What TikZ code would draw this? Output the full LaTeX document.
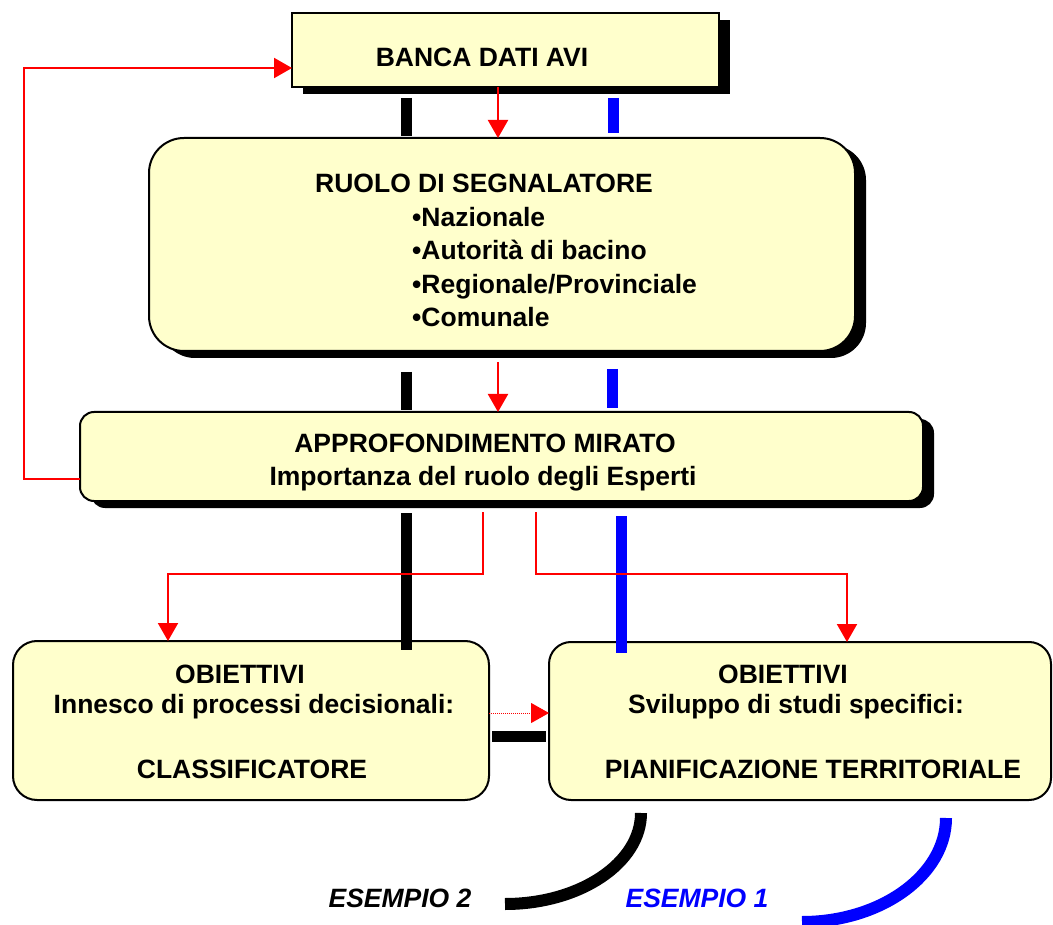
\documentclass[tikz,border=0pt]{standalone}
\usepackage{fontspec}
\setmainfont{Liberation Sans}
\usetikzlibrary{arrows.meta,shadows}
\definecolor{boxyellow}{HTML}{FFFFCC}
\definecolor{pured}{RGB}{255,0,0}
\definecolor{pureblue}{RGB}{0,0,255}
\begin{document}
\begin{tikzpicture}[x=1pt,y=-1pt,
  box/.style={draw=black,line width=2pt,fill=boxyellow,inner sep=0pt,outer sep=0pt},
  shadowed/.style={drop shadow={shadow xshift=11pt,shadow yshift=-7pt,fill=black,opacity=1}},
  txt/.style={font=\fontsize{26.5}{33}\selectfont\bfseries,anchor=base,inner sep=0pt},
  txtit/.style={font=\fontsize{26.5}{33}\selectfont\bfseries\itshape,anchor=base,inner sep=0pt},
  redarrow/.style={draw=pured,line width=2pt,-{Triangle[width=20pt,length=18pt]}},
  dotarrow/.style={draw=pured,line width=1pt,dash pattern=on 1pt off 1pt,-{Triangle[width=20pt,length=18pt]}},
  blackbar/.style={draw=black,line width=11pt},
  bluebar/.style={draw=pureblue,line width=11pt},
  arcline/.style={line width=12pt},
]
\useasboundingbox (0,0) rectangle (1053,925);

% boxes
\node[box,shadowed,minimum width=427pt,minimum height=74pt] (banca) at (505.5,50) {};
\node[box,shadowed,rounded corners=35pt,minimum width=706pt,minimum height=213pt] (ruolo) at (502,244.5) {};
\node[box,shadowed,rounded corners=14pt,minimum width=843pt,minimum height=89pt] (approf) at (501.5,456.5) {};
\node[box,rounded corners=24pt,minimum width=476pt,minimum height=159pt] (objl) at (251,720.5) {};
\node[box,rounded corners=22pt,minimum width=502pt,minimum height=158pt] (objr) at (800,721) {};

% texts
\node[txt] (tbanca) at (482,67) {BANCA DATI AVI};
\node[txt] (truolo) at (484,193) {RUOLO DI SEGNALATORE};
\node[txt,anchor=base west] (b1) at (412,226.5) {•Nazionale};
\node[txt,anchor=base west] (b2) at (412,260) {•Autorità di bacino};
\node[txt,anchor=base west] (b3) at (412,293.5) {•Regionale/Provinciale};
\node[txt,anchor=base west] (b4) at (412,327) {•Comunale};
\node[txt] (ta1) at (485,453) {APPROFONDIMENTO MIRATO};
\node[txt] (ta2) at (483,485) {Importanza del ruolo degli Esperti};
\node[txt] (tl1) at (240,683) {OBIETTIVI};
\node[txt] (tl2) at (254,713) {Innesco di processi decisionali:};
\node[txt] (tl3) at (252,778) {CLASSIFICATORE};
\node[txt] (tr1) at (783,683) {OBIETTIVI};
\node[txt] (tr2) at (796,713) {Sviluppo di studi specifici:};
\node[txt] (tr3) at (813,778) {PIANIFICAZIONE TERRITORIALE};
\node[txtit] (es2) at (400,907) {ESEMPIO 2};
\node[txtit,text=pureblue] (es1) at (697,907) {ESEMPIO 1};

% bars
\draw[blackbar] (406,98) -- (406,136);
\draw[bluebar] (613,98) -- (613,133);
\draw[blackbar] (406,372) -- (406,410);
\draw[bluebar] (612,369) -- (612,408);
\draw[blackbar] (406,513) -- (406,650);
\draw[bluebar] (621,516) -- (621,653);
\draw[blackbar] (492,736) -- (546,736);

% red connectors
\coordinate (xa) at (498,0);
\draw[redarrow] (banca.south -| xa) -- (ruolo.north -| xa);
\coordinate (ra) at (498,362);
\draw[redarrow] (ra) -- (approf.north -| xa);
\coordinate (loopb) at (24,479);
\draw[redarrow] ([yshift=-22.5pt]approf.west) -- (loopb) |- ([yshift=-18pt]banca.west);
\coordinate (sl0) at (483,512);
\coordinate (sl) at (168,574);
\draw[redarrow] (sl0) |- (sl) -- (sl |- objl.north);
\coordinate (sr0) at (536,512);
\coordinate (sr) at (847,574);
\draw[redarrow] (sr0) |- (sr) -- (sr |- objr.north);
\coordinate (dy) at (0,713);
\draw[dotarrow] (objl.east |- dy) -- (objr.west |- dy);

% arcs
\coordinate (a2s) at (641,813);
\coordinate (a2e) at (505,904);
\draw[arcline,black] (a2s) .. controls (641,863) and (580,904) .. (a2e);
\coordinate (a1s) at (946,818);
\coordinate (a1e) at (802,922);
\draw[arcline,pureblue] (a1s) .. controls (946,875) and (881,922) .. (a1e);
\end{tikzpicture}
\end{document}
